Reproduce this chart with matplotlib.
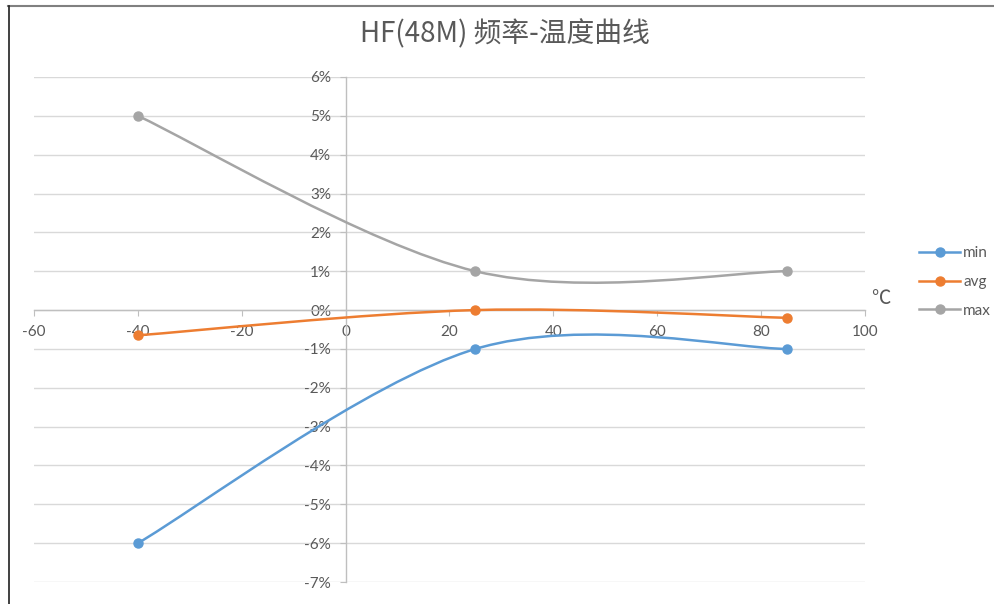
import matplotlib
matplotlib.use("Agg")
import matplotlib.pyplot as plt
import numpy as np
from matplotlib.path import Path
from matplotlib.patches import PathPatch
from matplotlib.lines import Line2D
from matplotlib.ticker import FuncFormatter

plt.rcParams['font.family'] = ['Lato', 'Noto Sans CJK SC', 'DejaVu Sans']
plt.rcParams['axes.unicode_minus'] = False

# data (temperature in C, deviation in %)
temps = [-40, 25, 85]
min_vals = [-6.0, -1.0, -1.0]
avg_vals = [-0.65, 0.0, -0.2]
max_vals = [5.0, 1.0, 1.0]
series_names = ['min', 'avg', 'max']
colors = ['#5B9BD5', '#ED7D31', '#A5A5A5']
title = 'HF(48M) 频率-温度曲线'


def smooth_path(xs, ys):
    # Excel-like smoothed line: cubic bezier through the points
    pts = np.column_stack([xs, ys]).astype(float)
    n = len(pts)
    verts = [pts[0]]
    codes = [Path.MOVETO]
    for i in range(n - 1):
        p0 = pts[i - 1] if i > 0 else pts[i]
        p1 = pts[i]
        p2 = pts[i + 1]
        p3 = pts[i + 2] if i + 2 < n else pts[i + 1]
        c1 = p1 + (p2 - p0) / 6.0
        c2 = p2 - (p3 - p1) / 6.0
        verts += [c1, c2, p2]
        codes += [Path.CURVE4] * 3
    return Path(verts, codes)


fig = plt.figure(figsize=(9.95, 6.04), dpi=100)
ax = fig.add_axes([34 / 995, 1 - 582 / 604, (865 - 34) / 995, (582 - 77) / 604])

for name, vals, c in zip(series_names, [min_vals, avg_vals, max_vals], colors):
    patch = PathPatch(smooth_path(temps, vals), facecolor='none', edgecolor=c,
                      linewidth=1.8, zorder=3, capstyle='round')
    ax.add_patch(patch)
    ax.plot(temps, vals, linestyle='none', marker='o', markersize=6.5,
            color=c, zorder=4)

ax.set_xlim(-60, 100)
ax.set_ylim(-7, 6)
ax.set_xticks(np.arange(-60, 101, 20))
ax.set_yticks(np.arange(-7, 7, 1))
ax.yaxis.set_major_formatter(FuncFormatter(lambda v, p: f'{int(round(v))}%'))

ax.spines['left'].set_position(('data', 0))
ax.spines['bottom'].set_position(('data', 0))
ax.spines['top'].set_visible(False)
ax.spines['right'].set_visible(False)
for s in ['left', 'bottom']:
    ax.spines[s].set_color('#BFBFBF')
    ax.spines[s].set_linewidth(1.0)

ax.yaxis.grid(True, color='#D9D9D9', linewidth=1.0)
ax.set_axisbelow(True)
ax.tick_params(axis='x', direction='out', length=4, color='#BFBFBF',
               labelsize=11, labelcolor='#595959', pad=7)
ax.tick_params(axis='y', direction='out', length=4, color='#BFBFBF',
               labelsize=11, labelcolor='#595959', pad=6.5)
ax.set_facecolor('none')

fig.text(881 / 995, 1 - 299 / 604, '℃', fontsize=14, color='#595959',
         ha='center', va='center', family=['Noto Sans CJK SC', 'DejaVu Sans'])

fig.text(505 / 995, 1 - 34 / 604, title, fontsize=20, color='#595959',
         ha='center', va='center', family=['Noto Sans CJK SC', 'DejaVu Sans'])

handles = [Line2D([0], [0], color=c, linewidth=1.8, marker='o', markersize=6.5)
           for c in colors]
fig.legend(handles, series_names, loc='center left',
           bbox_to_anchor=(919 / 995, 1 - 282 / 604), frameon=False,
           borderaxespad=0, borderpad=0,
           fontsize=11, labelcolor='#595959', handlelength=2.7,
           handletextpad=0.2, labelspacing=0.95)

# screenshot border lines
fig.add_artist(Line2D([8 / 995, 1], [1 - 5.5 / 604, 1 - 5.5 / 604],
                      color='#808080', linewidth=1.5))
fig.add_artist(Line2D([9 / 995, 9 / 995], [0, 1 - 5.5 / 604],
                      color='#202020', linewidth=1.2))

fig.savefig('out.png', dpi=100)
